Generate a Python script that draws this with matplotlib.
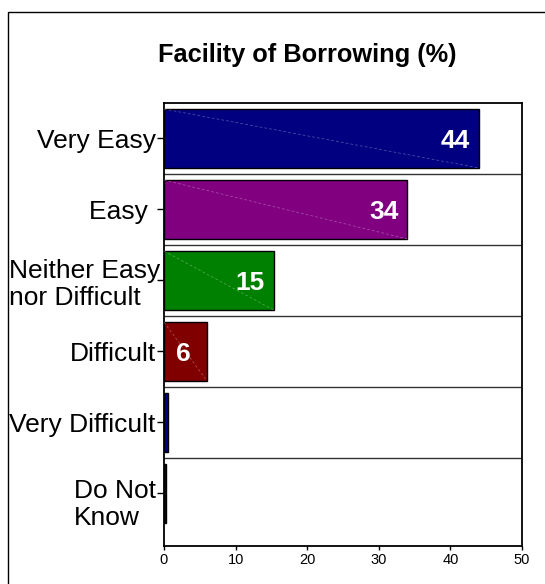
import matplotlib
matplotlib.use('Agg')
from matplotlib import pyplot as plt
from matplotlib.patches import Rectangle
from matplotlib.transforms import ScaledTranslation
import numpy as np

plt.rcParams['font.family'] = ['Liberation Sans', 'DejaVu Sans']

categories = ['Very Easy', 'Easy ', 'Neither Easy\nnor Difficult', 'Difficult',
              'Very Difficult', 'Do Not\nKnow']
values = [44, 34, 15.3, 6, 0.5, 0.3]
labels = ['44', '34', '15', '6', '', '']
colors = ['#000080', '#800080', '#008000', '#800000', '#000080', '#101010']
xticks = [0, 10, 20, 30, 40, 50]

fig = plt.figure(figsize=(5.45, 5.84), dpi=100)
fig.patches.append(Rectangle((8 / 545, -0.05), 1.0, 1 - 12 / 584 + 0.05,
                             transform=fig.transFigure, fill=False,
                             edgecolor='black', linewidth=1.0))

ax = fig.add_axes([164 / 545, 1 - 546 / 584, 358 / 545, 443 / 584])
y = np.arange(len(categories))
h = 0.83
ax.barh(y, values, height=h, color=colors, edgecolor='black', linewidth=1.0, zorder=3)

# faint diagonal across each bar
for yi, v in zip(y, values):
    if v > 1:
        ax.plot([0, v], [yi - h / 2, yi + h / 2], color='white', alpha=0.35,
                linewidth=0.5, linestyle=(0, (4, 3)), zorder=4)

for yi, v, lab in zip(y, values, labels):
    if lab:
        ax.text(v - 3.3, yi + 0.03, lab, color='white', fontsize=19,
                fontweight='bold', ha='center', va='center', zorder=5)

for sep in y[:-1] + 0.5:
    ax.axhline(sep, color='#333333', linewidth=1.0, zorder=2)

ax.set_xlim(0, 50)
ax.set_ylim(5.74, -0.5)
ax.set_xticks(xticks)
ax.set_xticklabels([str(t) for t in xticks], fontsize=10.5)
ax.set_yticks(y)
ax.set_yticklabels(categories, fontsize=19, multialignment='left', linespacing=1.15)
ax.tick_params(axis='y', length=5, width=1, pad=1)
ax.tick_params(axis='x', length=3, width=1, pad=2)
for s in ax.spines.values():
    s.set_linewidth(1.3)

# small nudges of the two-line labels
tl = ax.get_yticklabels()
tl[2].set_transform(tl[2].get_transform() + ScaledTranslation(5 / 100, 0, fig.dpi_scale_trans))
tl[5].set_transform(tl[5].get_transform() + ScaledTranslation(0, -7 / 100, fig.dpi_scale_trans))

fig.text(307 / 545, 1 - 55 / 584, 'Facility of Borrowing (%)', fontsize=18.3,
         fontweight='bold', ha='center', va='center')

fig.savefig('out.png', dpi=100)
